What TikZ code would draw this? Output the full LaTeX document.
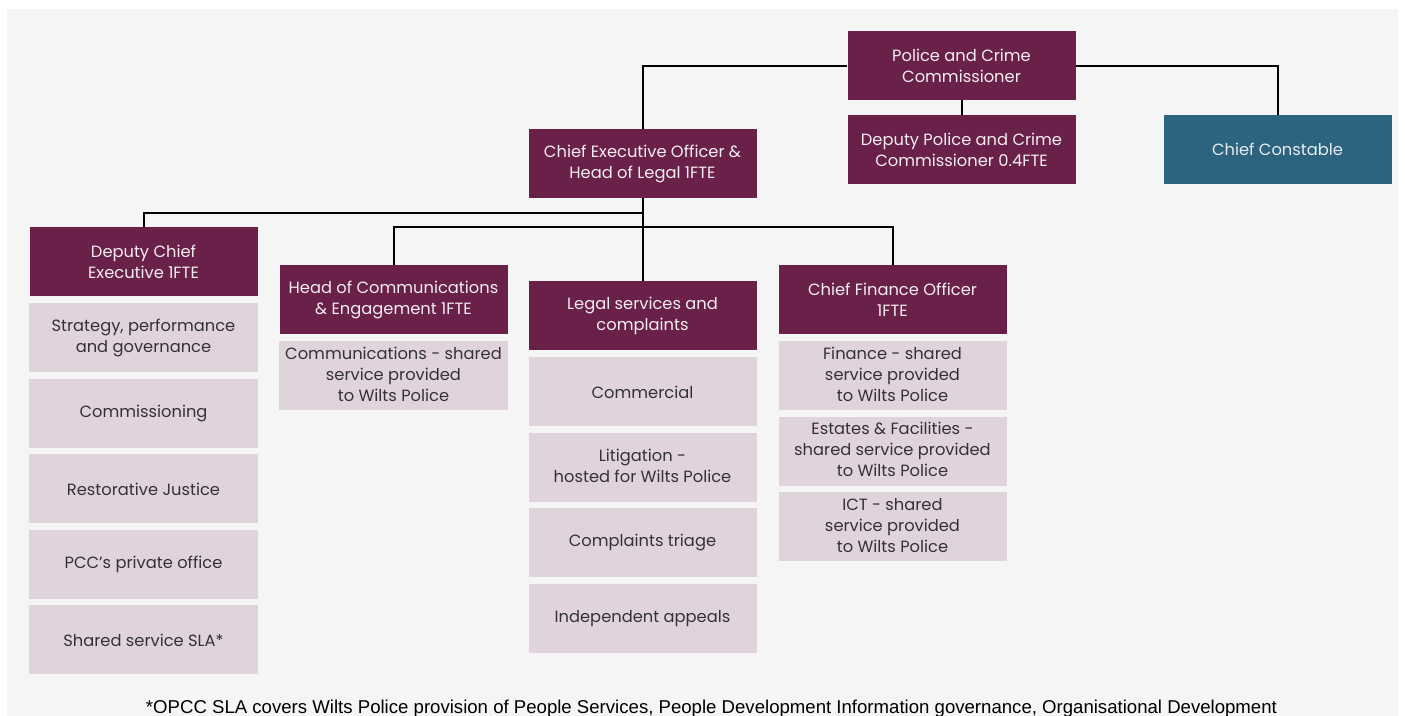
\documentclass[tikz,border=0pt]{standalone}
\usepackage{fontspec}
\setmainfont{Poppins}
\newfontfamily\notefont{Liberation Sans}
\usetikzlibrary{matrix,positioning}
\definecolor{opccplum}{HTML}{6A2149}
\definecolor{opccpink}{HTML}{E1D3DC}
\definecolor{policeblue}{HTML}{2C6480}
\definecolor{chartgrey}{HTML}{F5F5F5}
\tikzset{
	post/.style={fill=opccplum, text=opccpink!40!white, minimum width=228pt, minimum height=69pt, inner sep=0pt, align=center, font=\fontsize{16.3}{21}\selectfont},
	force/.style={post, fill=policeblue, text=policeblue!12!white},
	unit/.style={post, fill=opccpink, text=black!80},
	link/.style={draw=black, line width=2pt},
	note/.style={font=\notefont\fontsize{18.6}{21}\selectfont, text=black, inner sep=0pt}
}
\newcommand{\connectposts}[2]{
	\draw[link] (#1.south) -- (#2.north);
}

\begin{document}
\begin{tikzpicture}[x=1pt, y=-1pt]
			\useasboundingbox (0,0) rectangle (1405,715);
			\fill[chartgrey] (7,9) rectangle (1398,716);
			
			% Commissioner and force are drawn.
			\node[post] (pcc) at (961.5,65.5) {Police and Crime\\Commissioner};
			\node[post] (dpcc) at (961.5,149.5) {Deputy Police and Crime\\Commissioner 0.4FTE};
			\node[force] (cc) at (1277.5,149.5) {Chief Constable};
			\node[post] (ceo) at (642.5,163.5) {Chief Executive Officer \&\\Head of Legal 1FTE};
			
			% Second tier of the office.
			\node[post] (dce) at (143.5,261.5) {Deputy Chief\\Executive 1FTE};
			\node[post] (hce) at (393.5,299.5) {Head of Communications\\\& Engagement 1FTE};
			\node[post] (legal) at (642.5,315.5) {Legal services and\\complaints};
			\node[post] (cfo) at (892.5,299.5) {Chief Finance Officer\\1FTE};
			
			\coordinate (dce-split) at (642.5,212.5);
			\coordinate (unit-split) at (642.5,227);
			
			\draw[link] (ceo.north) |- (pcc.west);
			\draw[link] (pcc.east) -| (cc.north);
			\connectposts{pcc}{dpcc}
			\connectposts{ceo}{legal}
			\draw[link] (dce-split) -| (dce.north);
			\draw[link] (hce.north) |- (unit-split) -| (cfo.north);
			
			% Deputy chief executive units are drawn.
			\matrix (dce-units)[matrix of nodes,
					below=7pt of dce,
					row sep=6.5pt, inner sep=0pt, nodes=unit]{
				\begin{tabular}{c} Strategy, performance \\ and governance \end{tabular}\\ %dce-units-1-1
				Commissioning\\ %dce-units-2-1
				Restorative Justice\\ %dce-units-3-1
				PCC’s private office\\ %dce-units-4-1
				Shared service SLA*\\ %dce-units-5-1
			};
			
			% Communications unit is drawn.
			\matrix (hce-units)[matrix of nodes,
					below=7pt of hce,
					row sep=6.5pt, inner sep=0pt, nodes=unit]{
				\begin{tabular}{c} Communications - shared \\ service provided \\ to Wilts Police \end{tabular}\\ %hce-units-1-1
			};
			
			% Legal units are drawn.
			\matrix (legal-units)[matrix of nodes,
					below=7pt of legal,
					row sep=6.5pt, inner sep=0pt, nodes=unit]{
				Commercial\\ %legal-units-1-1
				\begin{tabular}{c} Litigation - \\ hosted for Wilts Police \end{tabular}\\ %legal-units-2-1
				Complaints triage\\ %legal-units-3-1
				Independent appeals\\ %legal-units-4-1
			};
			
			% Finance units are drawn.
			\matrix (cfo-units)[matrix of nodes,
					below=7pt of cfo,
					row sep=6.5pt, inner sep=0pt, nodes=unit]{
				\begin{tabular}{c} Finance - shared \\ service provided \\ to Wilts Police \end{tabular}\\ %cfo-units-1-1
				\begin{tabular}{c} Estates \& Facilities - \\ shared service provided \\ to Wilts Police \end{tabular}\\ %cfo-units-2-1
				\begin{tabular}{c} ICT - shared \\ service provided \\ to Wilts Police \end{tabular}\\ %cfo-units-3-1
			};
			
			\node[note, anchor=base] (sla-note) at (711.5,713) {*OPCC SLA covers Wilts Police provision of People Services, People Development Information governance, Organisational Development};
			
		\end{tikzpicture}
\end{document}
